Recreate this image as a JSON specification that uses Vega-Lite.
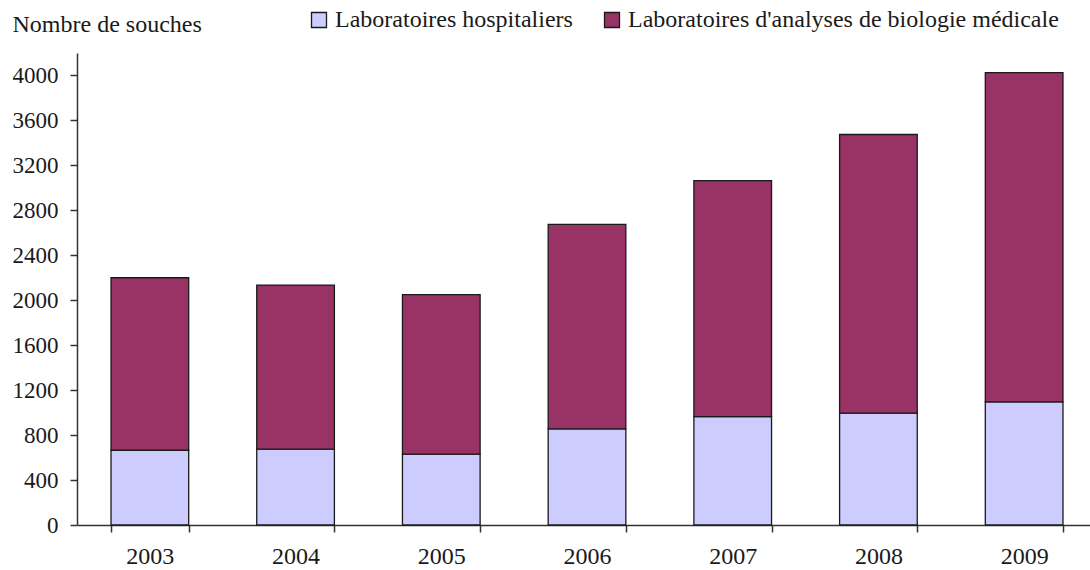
{
  "$schema": "https://vega.github.io/schema/vega-lite/v6.json",
  "width": 1013,
  "height": 472,
  "autosize": {"type": "none"},
  "padding": {"left": 77, "top": 53, "right": 0, "bottom": 45},
  "background": "white",
  "config": {
    "view": {"stroke": null},
    "font": "'Times New Roman', 'Liberation Serif', serif",
    "axis": {"grid": false, "domainColor": "#333333", "domainWidth": 1.5, "tickColor": "#333333", "tickWidth": 1.5, "labelColor": "#1a1a1a", "labelFont": "'Times New Roman', 'Liberation Serif', serif", "titleFont": "'Times New Roman', 'Liberation Serif', serif"},
    "legend": {"labelFont": "'Times New Roman', 'Liberation Serif', serif"}
  },
  "data": {
    "values": [
      {"annee": "2003", "type": "Laboratoires hospitaliers", "souches": 665},
      {"annee": "2004", "type": "Laboratoires hospitaliers", "souches": 675},
      {"annee": "2005", "type": "Laboratoires hospitaliers", "souches": 630},
      {"annee": "2006", "type": "Laboratoires hospitaliers", "souches": 855},
      {"annee": "2007", "type": "Laboratoires hospitaliers", "souches": 965},
      {"annee": "2008", "type": "Laboratoires hospitaliers", "souches": 995},
      {"annee": "2009", "type": "Laboratoires hospitaliers", "souches": 1095},
      {"annee": "2003", "type": "Laboratoires d'analyses de biologie médicale", "souches": 1535},
      {"annee": "2004", "type": "Laboratoires d'analyses de biologie médicale", "souches": 1460},
      {"annee": "2005", "type": "Laboratoires d'analyses de biologie médicale", "souches": 1420},
      {"annee": "2006", "type": "Laboratoires d'analyses de biologie médicale", "souches": 1820},
      {"annee": "2007", "type": "Laboratoires d'analyses de biologie médicale", "souches": 2100},
      {"annee": "2008", "type": "Laboratoires d'analyses de biologie médicale", "souches": 2480},
      {"annee": "2009", "type": "Laboratoires d'analyses de biologie médicale", "souches": 2930}
    ]
  },
  "mark": {"type": "bar", "stroke": "#1a1a1a", "strokeWidth": 1.3, "opacity": 1},
  "encoding": {
    "x": {
      "field": "annee",
      "type": "ordinal",
      "scale": {"range": [0, 1020], "paddingInner": 0.467, "paddingOuter": 0.2335},
      "axis": {
        "title": null,
        "labelAngle": 0,
        "labelFontSize": 24,
        "tickBand": "extent",
        "tickSize": 7,
        "labelPadding": 12
      }
    },
    "y": {
      "field": "souches",
      "type": "quantitative",
      "stack": "zero",
      "scale": {"domain": [0, 4200], "nice": false},
      "axis": {
        "values": [0, 400, 800, 1200, 1600, 2000, 2400, 2800, 3200, 3600, 4000],
        "format": "d",
        "title": "Nombre de souches",
        "titleAngle": 0,
        "titleAlign": "left",
        "titleBaseline": "alphabetic",
        "titleX": -65,
        "titleY": -22,
        "titleFontSize": 24,
        "titleFontWeight": "normal",
        "titleColor": "#1a1a1a",
        "labelFontSize": 23,
        "tickSize": 7,
        "labelPadding": 12
      }
    },
    "color": {
      "field": "type",
      "type": "nominal",
      "scale": {
        "domain": ["Laboratoires hospitaliers", "Laboratoires d'analyses de biologie médicale"],
        "range": ["#ccccff", "#993366"]
      },
      "legend": {
        "title": null,
        "orient": "none",
        "direction": "horizontal",
        "legendX": 230,
        "legendY": -45,
        "padding": 0,
        "symbolType": "square",
        "symbolSize": 225,
        "symbolStrokeColor": "#1a1a1a",
        "symbolStrokeWidth": 1.3,
        "symbolOpacity": 1,
        "labelFontSize": 24,
        "labelColor": "#1a1a1a",
        "labelOffset": 4,
        "columnPadding": 27,
        "labelLimit": 0
      }
    },
    "order": {"field": "type", "sort": "descending"}
  }
}
